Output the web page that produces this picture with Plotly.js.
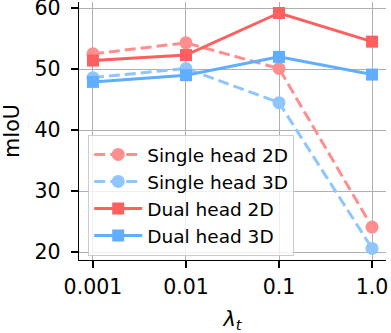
<!DOCTYPE html>
<html>
<head>
<meta charset="utf-8">
<script src="https://cdn.plot.ly/plotly-3.0.1.min.js"></script>
<style>
    html, body { margin: 0; padding: 0; background: #fff; }
    #chart { width: 391px; height: 333px; }
</style>
</head>
<body>
<div id="chart"></div>
<script>
// lambda_t sweep - mIoU per head setup
const lambdas = [0.001, 0.01, 0.1, 1.0];
const lambdaLabels = ['0.001', '0.01', '0.1', '1.0'];

const single2D = [52.5, 54.3, 50.1, 24.1];
const single3D = [48.6, 50.1, 44.5, 20.6];
const dual2D = [51.4, 52.3, 59.2, 54.5];
const dual3D = [47.9, 49.0, 52.0, 49.1];

function makeTrace(name, values, color, symbol, dashed) {
    return {
        x: lambdas,
        y: values,
        name: name,
        type: 'scatter',
        mode: 'lines+markers',
        line: { color: color, width: 3, dash: dashed ? '11px,5px' : 'solid' },
        marker: { color: color, size: symbol === 'square' ? 12 : 13, symbol: symbol }
    };
}

const traces = [
    makeTrace('Single head 2D', single2D, '#ff8f8f', 'circle', true),
    makeTrace('Single head 3D', single3D, '#8fc6ff', 'circle', true),
    makeTrace('Dual head 2D', dual2D, '#ff5f5f', 'square', false),
    makeTrace('Dual head 3D', dual3D, '#5faeff', 'square', false)
];

const layout = {
    width: 391,
    height: 333,
    margin: { l: 79, r: 5, t: 2, b: 73 },
    paper_bgcolor: '#fff',
    plot_bgcolor: '#fff',
    font: { family: 'DejaVu Sans', color: '#000', size: 20 },
    showlegend: true,
    xaxis: {
        type: 'log',
        range: [-3.15, 0.15],
        tickvals: lambdas,
        ticktext: lambdaLabels,
        ticks: 'outside',
        ticklen: 7,
        tickwidth: 1.3,
        tickcolor: '#000',
        showline: true,
        linecolor: '#000',
        linewidth: 1.3,
        showgrid: true,
        gridcolor: '#b0b0b0',
        gridwidth: 1,
        zeroline: false,
        tickfont: { size: 20.5 },
        ticklabelstandoff: 1,
        ticklabeloverflow: 'allow',
        title: { text: '<i>λ</i><sub><i>t</i></sub>', font: { size: 21 }, standoff: 16 }
    },
    yaxis: {
        range: [18.7, 61.0],
        tickvals: [20, 30, 40, 50, 60],
        ticks: 'outside',
        ticklen: 7,
        tickwidth: 1.3,
        tickcolor: '#000',
        showline: true,
        linecolor: '#000',
        linewidth: 1.3,
        showgrid: true,
        gridcolor: '#b0b0b0',
        gridwidth: 1,
        zeroline: false,
        tickfont: { size: 20.5 },
        ticklabelstandoff: 6,
        ticklabeloverflow: 'allow',
        title: { text: 'mIoU', font: { size: 20.5 }, standoff: 17 }
    },
    legend: {
        x: 0.03,
        y: 0.485,
        xanchor: 'left',
        yanchor: 'top',
        itemwidth: 48,
        bgcolor: 'rgba(255,255,255,0.8)',
        bordercolor: '#cccccc',
        borderwidth: 1,
        font: { size: 18.5 }
    }
};

Plotly.newPlot('chart', traces, layout, { displayModeBar: false, staticPlot: true });
</script>
</body>
</html>
